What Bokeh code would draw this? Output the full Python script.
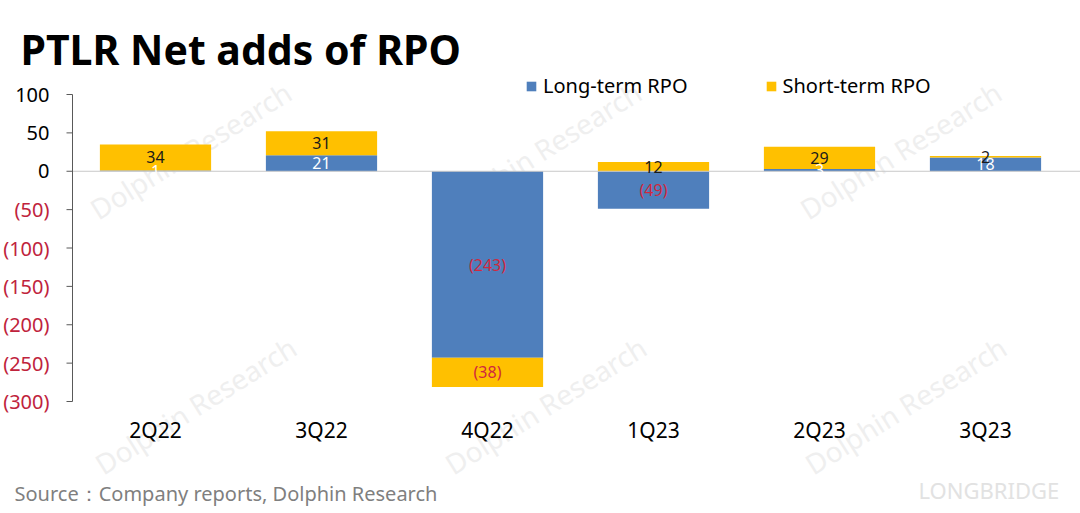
from bokeh.plotting import figure
from bokeh.models import (ColumnDataSource, Range1d, LabelSet, Label,
                          Legend, LegendItem)
from bokeh.core.properties import value
from bokeh.embed import file_html
from bokeh.resources import INLINE

# 資料
quarters = ["2Q22", "3Q22", "4Q22", "1Q23", "2Q23", "3Q23"]
long_term = [1, 21, -243, -49, 3, 18]
short_term = [34, 31, -38, 12, 29, 2]
y_ticks = [100, 50, 0, -50, -100, -150, -200, -250, -300]

FONT = "Noto Sans"
BLUE = "#4F7FBC"
YELLOW = "#FFC000"
RED = "#C0233C"
AXIS = "#595959"

W, H = 1080, 513
# 繪圖區（頁面像素）：左 72、右 1068、上 94 (=100)、下 401 (=-300)
PX_X = (1068 - 72) / len(quarters)
PX_Y = (401 - 94) / (max(y_ticks) - min(y_ticks))


def fmt(v):
    return f"({abs(v)})" if v < 0 else str(v)


def sy(py):  # 頁面 y -> screen y (由下往上)
    return H - py


# Excel式堆疊：正值往上疊，負值往下疊
long_b, long_t, short_b, short_t = [], [], [], []
for lt, st in zip(long_term, short_term):
    pos, neg = 0, 0
    if lt >= 0:
        long_b.append(pos); pos += lt; long_t.append(pos)
    else:
        long_b.append(neg); neg += lt; long_t.append(neg)
    if st >= 0:
        short_b.append(pos); pos += st; short_t.append(pos)
    else:
        short_b.append(neg); neg += st; short_t.append(neg)

xs = [i + 0.5 for i in range(len(quarters))]
src = ColumnDataSource(dict(x=xs, q=quarters, lb=long_b, lt=long_t, sb=short_b, st=short_t))

x_start = -72 / PX_X
x_end = len(quarters) + (W - 1068) / PX_X
y_end = max(y_ticks) + 94 / PX_Y
y_start = min(y_ticks) - (H - 401) / PX_Y

p = figure(x_range=Range1d(x_start, x_end), y_range=Range1d(y_start, y_end),
           width=W, height=H, output_backend="svg",
           toolbar_location=None, tools="",
           x_axis_location=None, y_axis_location=None,
           min_border=0)
p.outline_line_color = None
p.grid.visible = False

# 浮水印
for wx, wy in [(190, 150), (540, 150), (900, 150), (195, 405), (545, 405), (905, 405)]:
    p.add_layout(Label(x=wx, y=sy(wy), x_units="screen", y_units="screen",
                       text="Dolphin Research", angle=0.56, text_align="center",
                       text_baseline="middle", text_font=FONT, text_font_size="28px",
                       text_color="#efefef", level="underlay"))

r_long = p.vbar(x="x", bottom="lb", top="lt", width=0.67, source=src,
                fill_color=BLUE, line_color=None)
r_short = p.vbar(x="x", bottom="sb", top="st", width=0.67, source=src,
                 fill_color=YELLOW, line_color=None)

# 零軸線
p.segment(x0=[0], y0=[0], x1=[x_end], y1=[0], line_color="#c8c8c8", line_width=1)

# 縱軸線與刻度
p.segment(x0=[0], y0=[min(y_ticks)], x1=[0], y1=[max(y_ticks)], line_color=AXIS, line_width=1)
p.segment(x0=[-6 / PX_X] * len(y_ticks), y0=y_ticks, x1=[0] * len(y_ticks), y1=y_ticks,
          line_color=AXIS, line_width=1)

# 縱軸刻度文字（負值紅色）
tick_src = ColumnDataSource(dict(y=y_ticks, text=[fmt(v) for v in y_ticks],
                                 color=["black" if v >= 0 else RED for v in y_ticks]))
p.add_layout(LabelSet(x=49, y="y", x_units="screen", text="text", source=tick_src,
                      text_color="color", text_align="right", text_baseline="middle",
                      text_font=value(FONT), text_font_size="20px"))

# 橫軸類別文字
cat_src = ColumnDataSource(dict(x=xs, text=quarters))
p.add_layout(LabelSet(x="x", y=sy(429), y_units="screen", text="text", source=cat_src,
                      text_color="black", text_align="center", text_baseline="middle",
                      text_font=value(FONT), text_font_size="21px"))

# 數據標籤
lab_x, lab_y, lab_t, lab_c = [], [], [], []
for i, x in enumerate(xs):
    lab_x.append(x); lab_y.append((long_b[i] + long_t[i]) / 2)
    lab_t.append(fmt(long_term[i])); lab_c.append("white" if long_term[i] >= 0 else "#D0283E")
    lab_x.append(x); lab_y.append((short_b[i] + short_t[i]) / 2)
    lab_t.append(fmt(short_term[i])); lab_c.append("#1a1a1a" if short_term[i] >= 0 else "#D0283E")
lab_src = ColumnDataSource(dict(x=lab_x, y=lab_y, text=lab_t, color=lab_c))
p.add_layout(LabelSet(x="x", y="y", text="text", source=lab_src, text_color="color",
                      text_align="center", text_baseline="middle",
                      text_font=value(FONT), text_font_size="16px"))

# 圖例
legend = Legend(items=[LegendItem(label="Long-term RPO", renderers=[r_long]),
                       LegendItem(label="Short-term RPO", renderers=[r_short])],
                orientation="horizontal", location=(525, sy(99)),
                border_line_color=None, background_fill_alpha=0,
                glyph_width=12, glyph_height=12, label_standoff=6, spacing=77,
                padding=0, margin=0, label_height=20,
                label_text_font=FONT, label_text_font_size="20px", label_text_color="black")
p.add_layout(legend)

# 標題與資料來源
p.add_layout(Label(x=20, y=sy(48), x_units="screen", y_units="screen",
                   text="PTLR Net adds of RPO", text_font=FONT, text_font_style="bold",
                   text_font_size="41px", text_baseline="middle", text_color="black"))
p.add_layout(Label(x=14, y=sy(493), x_units="screen", y_units="screen",
                   text="Source：Company reports, Dolphin Research", text_font=FONT,
                   text_font_size="20px", text_baseline="middle", text_color="#7f7f7f"))
p.add_layout(Label(x=918, y=sy(489), x_units="screen", y_units="screen",
                   text="LONGBRIDGE", text_font=FONT, text_font_size="22px",
                   text_baseline="middle", text_color="#e2e2e2"))

open("out.html", "w").write(file_html(p, INLINE))
